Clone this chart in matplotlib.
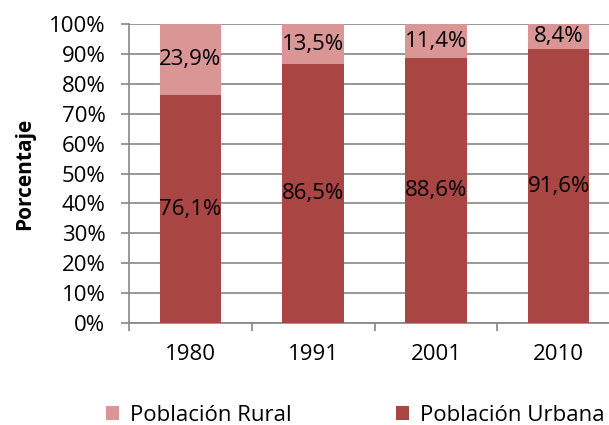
import matplotlib
matplotlib.use('Agg')
import matplotlib.pyplot as plt
import numpy as np

anios = ['1980', '1991', '2001', '2010']
urbana = [76.1, 86.5, 88.6, 91.6]
rural = [23.9, 13.5, 11.4, 8.4]
etiquetas_urbana = ['76,1%', '86,5%', '88,6%', '91,6%']
etiquetas_rural = ['23,9%', '13,5%', '11,4%', '8,4%']
yticks = list(range(0, 101, 10))

col_urb = '#A94644'
col_rur = '#D99694'
fs = 16

plt.rcParams['font.family'] = ['Open Sans', 'DejaVu Sans']

fig = plt.figure(figsize=(6.09, 4.25), dpi=100)
ax = fig.add_axes([129/609, 1-323/425, 491/609, 299/425])

x = np.arange(len(anios))
b1 = ax.bar(x, urbana, width=0.5, color=col_urb, zorder=3)
b2 = ax.bar(x, rural, width=0.5, bottom=urbana, color=col_rur, zorder=3)

for i in range(len(anios)):
    ax.text(x[i], urbana[i]/2, etiquetas_urbana[i], ha='center', va='center',
            fontsize=fs, zorder=4)
    ax.text(x[i], urbana[i] + rural[i]/2, etiquetas_rural[i], ha='center',
            va='center', fontsize=fs, zorder=4)

ax.set_xlim(-0.5, len(anios) - 0.5)
ax.set_ylim(0, 100)
ax.set_yticks(yticks)
ax.set_yticklabels([f'{t}%' for t in yticks], fontsize=fs)
ax.set_xticks(x)
ax.set_xticklabels(anios, fontsize=fs)
ax.set_xticks(np.arange(len(anios) + 1) - 0.5, minor=True)
ax.tick_params(axis='x', which='major', length=0, pad=15)
ax.tick_params(axis='x', which='minor', length=6, color='#868686', width=1.2)
ax.tick_params(axis='y', length=6, color='#868686', width=1.2, pad=11)
ax.grid(axis='y', color='#868686', linewidth=1.2, zorder=0)
for s in ['top', 'right']:
    ax.spines[s].set_visible(False)
for s in ['left', 'bottom']:
    ax.spines[s].set_color('#868686')
    ax.spines[s].set_linewidth(1.2)

ax.set_ylabel('Porcentaje', fontsize=15, fontweight='bold', labelpad=10)

fig.legend([b2, b1], ['Población Rural', 'Población Urbana'], loc='center left',
           bbox_to_anchor=(0.155, 0.022), ncol=2, frameon=False, fontsize=fs,
           handlelength=0.6, handleheight=0.6, handletextpad=0.5,
           columnspacing=4.7, borderpad=0)

fig.savefig('out.png', dpi=100)
